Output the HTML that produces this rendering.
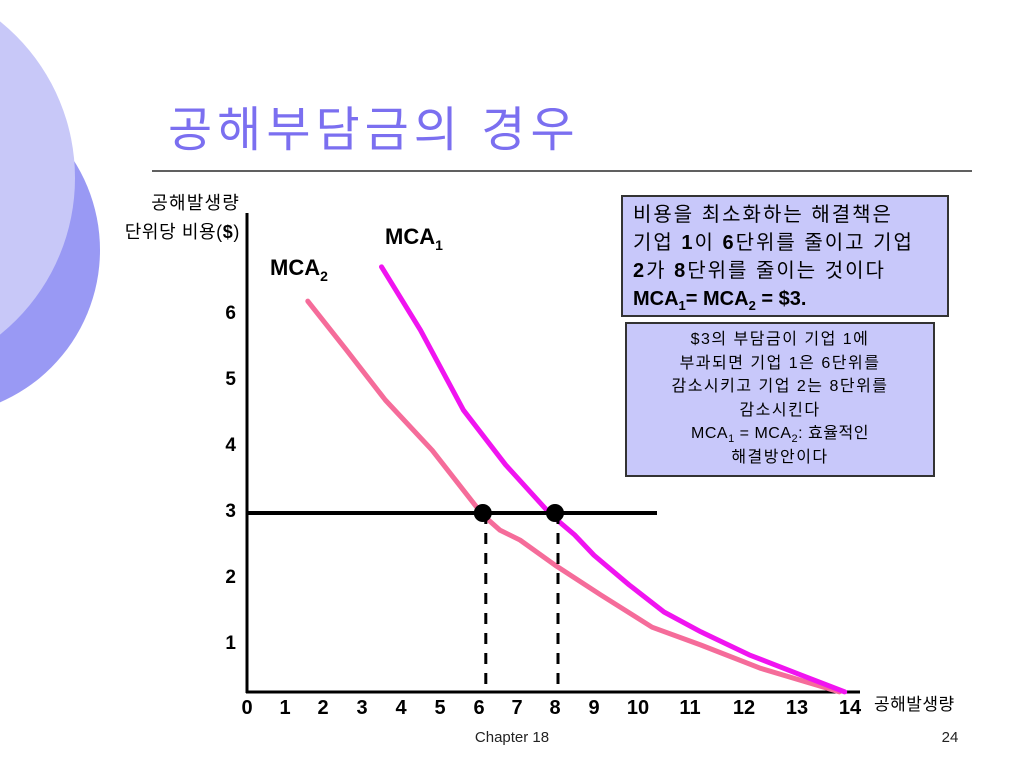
<!DOCTYPE html>
<html><head><meta charset="utf-8"><style>
body{margin:0;width:1024px;height:768px;background:#fff;overflow:hidden;font-family:"Liberation Sans","Noto Sans CJK KR",sans-serif}
svg{position:absolute;left:0;top:0}
.box{position:absolute;background:#c8c8fa;border:2px solid #333;box-sizing:border-box;color:#000;white-space:nowrap}
</style></head><body>
<svg width="1024" height="768">
<circle cx="-66" cy="250" r="166" fill="#9999f4"/>
<circle cx="-126" cy="178" r="201" fill="#c8c8f8"/>
<text x="168" y="146" font-size="48" letter-spacing="5" fill="#7b6ff0" font-family="Liberation Sans, Noto Sans CJK KR, sans-serif">공해부담금의 경우</text>
<line x1="152" y1="171" x2="972" y2="171" stroke="#000" stroke-width="1.2"/>
<g id="chart"></g>
<text x="240" y="209" font-size="18" letter-spacing="1.2" text-anchor="end">공해발생량</text>
<text x="240" y="238" font-size="18" letter-spacing="0.6" text-anchor="end">단위당 비용(<tspan font-weight="bold">$</tspan>)</text>
<text x="874" y="710" font-size="17" letter-spacing="0.5">공해발생량</text>
<text x="385" y="244" font-size="22" font-weight="bold">MCA<tspan font-size="14" dy="6">1</tspan></text>
<text x="270" y="275" font-size="22" font-weight="bold">MCA<tspan font-size="14" dy="6">2</tspan></text>
<text x="512" y="742" font-size="15" text-anchor="middle" fill="#222">Chapter 18</text>
<text x="950" y="742" font-size="15" text-anchor="middle" fill="#222">24</text>
</svg>
<div class="box" style="left:621px;top:195px;width:328px;height:122px;padding:4px 10px;font-size:20px;line-height:28px;letter-spacing:2px">비용을 최소화하는 해결책은<br>기업 <b>1</b>이 <b>6</b>단위를 줄이고 기업<br><b>2</b>가 <b>8</b>단위를 줄이는 것이다<br><b style="letter-spacing:0">MCA<sub style="font-size:13px">1</sub>= MCA<sub style="font-size:13px">2</sub> = $3.</b></div>
<div class="box" style="left:625px;top:322px;width:310px;height:155px;padding:4px 4px;font-size:16px;line-height:23.5px;letter-spacing:1.5px;text-align:center">$3의 부담금이 기업 1에<br>부과되면 기업 1은 6단위를<br>감소시키고 기업 2는 8단위를<br>감소시킨다<br><span style="letter-spacing:0.5px">MCA<sub style="font-size:11px;line-height:0">1</sub> = MCA<sub style="font-size:11px;line-height:0">2</sub>: 효율적인</span><br>해결방안이다</div>
<script>
const xTicks=[0,1,2,3,4,5,6,7,8,9,10,11,12,13,14];
const xTickPos=[247,285,323,362,401,440,479,517,555,594,638,690,744,797,850];
const yTicks=[1,2,3,4,5,6];
const mca1X=[3.5,4.5,5.6,6.7,7.9,8.5,9.0,9.8,10.5,11.2,12.1,13.06,13.9];
const mca1Y=[6.73,5.77,4.56,3.73,2.97,2.67,2.36,1.91,1.5,1.2,0.85,0.55,0.29];
const mca2X=[1.6,2.6,3.6,4.8,6.1,6.55,7.08,8,9.15,10.27,11.2,12.3,13.8];
const mca2Y=[6.21,5.47,4.71,3.95,2.97,2.74,2.59,2.21,1.76,1.27,1.0,0.65,0.29];
const feeLevel=3;
const eqX=[6.1,8];
function xs(v){const i=Math.min(Math.max(Math.floor(v),0),13);return xTickPos[i]+(v-i)*(xTickPos[i+1]-xTickPos[i]);}
function ys(v){return 711-66*v;}
const NS='http://www.w3.org/2000/svg';const g=document.getElementById('chart');
function mk(t,a,p){const e=document.createElementNS(NS,t);for(const k in a)e.setAttribute(k,a[k]);(p||g).appendChild(e);return e;}
let e=mk('line',{x1:247,y1:213,x2:247,y2:693,stroke:'#000','stroke-width':3});


e=mk('line',{x1:246,y1:692,x2:860,y2:692,stroke:'#000','stroke-width':3});


xTicks.forEach(t=>{const el=mk('text',{x:xs(t),y:714,'font-size':20,'font-weight':'bold','text-anchor':'middle'});el.textContent=t;

});
yTicks.forEach(t=>{const el=mk('text',{x:236,y:ys(t)+4,'font-size':19,'font-weight':'bold','text-anchor':'end'});el.textContent=t;

});
function pts(X,Y){return X.map((x,i)=>xs(x)+','+ys(Y[i])).join(' ');}
e=mk('polyline',{points:pts(mca2X,mca2Y),fill:'none',stroke:'#f56c9a','stroke-width':5,'stroke-linecap':'round','stroke-linejoin':'round'});


e=mk('polyline',{points:pts(mca1X,mca1Y),fill:'none',stroke:'#f014f0','stroke-width':5,'stroke-linecap':'round','stroke-linejoin':'round'});


e=mk('line',{x1:247,y1:ys(feeLevel),x2:657,y2:ys(feeLevel),stroke:'#000','stroke-width':4});


eqX.forEach(x=>{let d=mk('line',{x1:xs(x)+3,y1:ys(feeLevel),x2:xs(x)+3,y2:690,stroke:'#000','stroke-width':3,'stroke-dasharray':'11,9'});


let c=mk('circle',{cx:xs(x),cy:ys(feeLevel),r:9,fill:'#000'});

});
</script>
</body></html>
